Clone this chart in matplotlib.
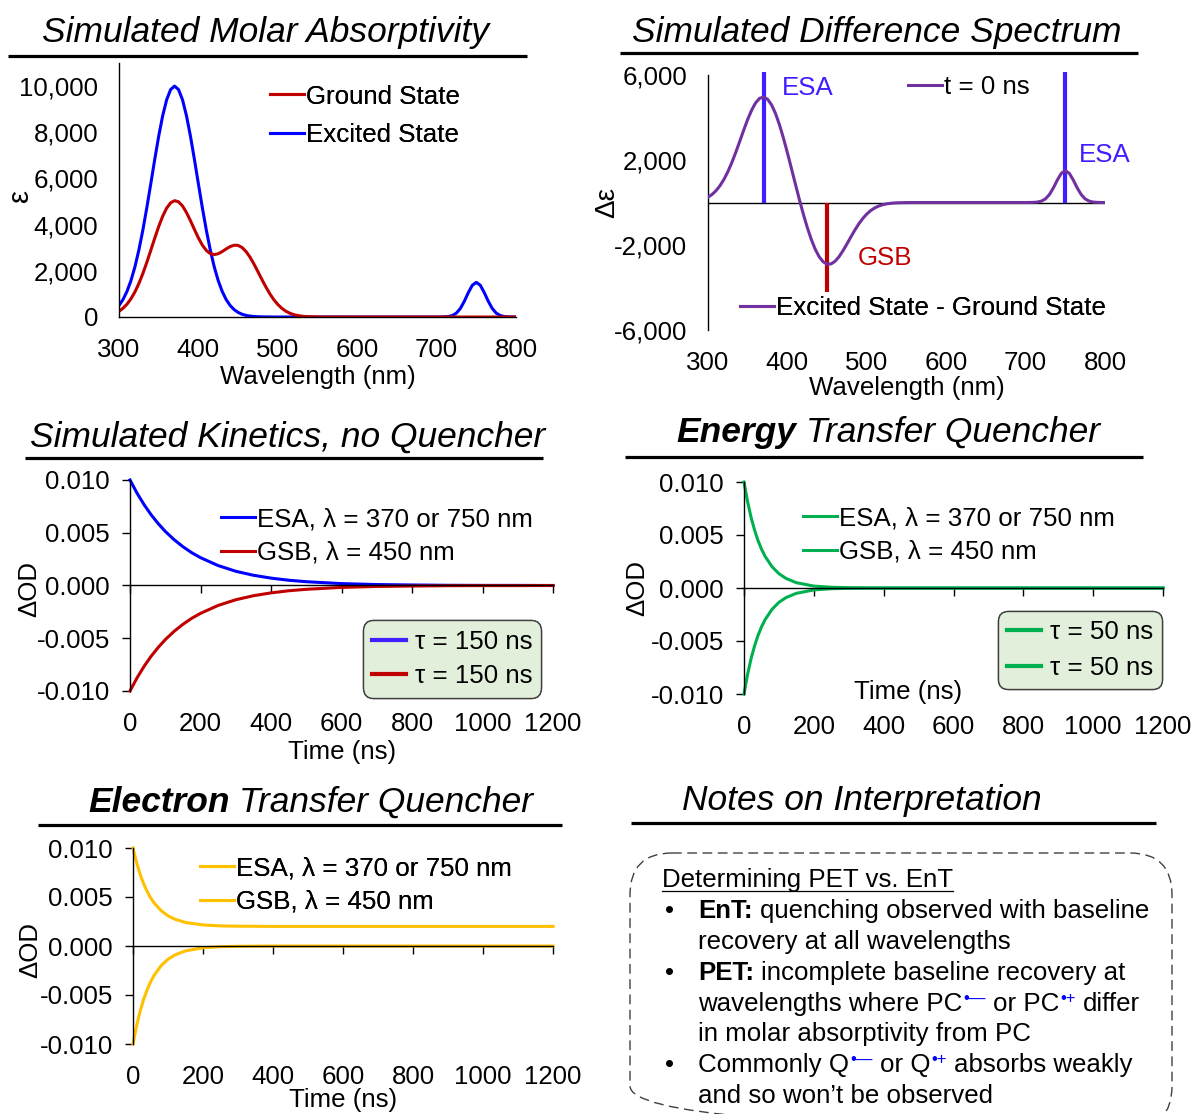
import matplotlib
matplotlib.use('Agg')
import matplotlib.pyplot as plt
import numpy as np
from matplotlib.lines import Line2D
from matplotlib.patches import FancyBboxPatch
from matplotlib.ticker import FuncFormatter

plt.rcParams['font.family'] = ['Liberation Sans', 'DejaVu Sans']
plt.rcParams['axes.linewidth'] = 1.0

W, H = 1196, 1114
FS = 18.6     # ticks, legends, notes
TFS = 25.5    # panel titles
SP = 0.278 * FS * 100 / 72   # width of a space in px

RED = '#C00000'
BLUE = '#0000FF'
MARK_BLUE = '#3F1FFF'
PURPLE = '#7030A0'
GREEN = '#00B050'
GOLD = '#FFC000'

# ---- simulated spectra (nm, M^-1 cm^-1) ----
wl = list(range(300, 545, 5)) + [550, 560, 600, 650] + list(range(700, 805, 5))

eps_ground = [249, 377, 552, 786, 1083, 1448, 1878, 2363, 2884, 3412,
              3918, 4363, 4715, 4945, 5038, 4988, 4808, 4523, 4170, 3789,
              3425, 3112, 2881, 2744, 2703, 2741, 2833, 2949, 3050, 3109,
              3100, 3009, 2836, 2592, 2292, 1961, 1623, 1298, 1003, 749,
              542, 378, 255, 166, 105, 64, 38, 21, 12,
              3, 1, 0, 0,
              0, 0, 0, 0, 0, 0, 0, 0, 0, 0, 0, 0, 0, 0, 0, 0, 0, 0, 0, 0, 0]

eps_excited = [498, 753, 1104, 1571, 2165, 2896, 3756, 4726, 5765, 6821,
               7829, 8714, 9406, 9848, 10000, 9848, 9406, 8714, 7829, 6821,
               5765, 4726, 3756, 2896, 2165, 1571, 1104, 753, 498, 320,
               199, 120, 70, 40, 22, 12, 6, 3, 1, 0,
               0, 0, 0, 0, 0, 0, 0, 0, 0,
               0, 0, 0, 0,
               0, 1, 6, 21, 66, 171, 374, 687, 1060, 1375, 1500,
               1375, 1060, 687, 374, 171, 66, 21, 6, 1, 0]

# band markers on the difference spectrum
band_wl = [370, 450, 750]
band_len = [6150, -4200, 6150]
band_col = [MARK_BLUE, RED, MARK_BLUE]

# ---- simulated kinetics (ns, dOD) ----
t_slow = [0, 20, 40, 60, 80, 100, 125, 150, 175, 200, 250, 300, 350, 400,
          450, 500, 600, 700, 800, 900, 1000, 1100, 1200]
esa_slow = [0.0100, 0.00875, 0.00766, 0.00670, 0.00587, 0.00513, 0.00435,
            0.00368, 0.00311, 0.00264, 0.00189, 0.00135, 0.00097, 0.00070,
            0.00050, 0.00036, 0.00018, 0.00009, 0.00005, 0.00002, 0.00001,
            0.00001, 0.0]
gsb_slow = [-0.0100, -0.00875, -0.00766, -0.00670, -0.00587, -0.00513, -0.00435,
            -0.00368, -0.00311, -0.00264, -0.00189, -0.00135, -0.00097, -0.00070,
            -0.00050, -0.00036, -0.00018, -0.00009, -0.00005, -0.00002, -0.00001,
            -0.00001, 0.0]

t_fast = [0, 10, 20, 30, 40, 50, 60, 80, 100, 120, 150, 200, 250, 300,
          400, 600, 800, 1000, 1200]
esa_ent = [0.0100, 0.00819, 0.00670, 0.00549, 0.00449, 0.00368, 0.00301,
           0.00202, 0.00135, 0.00091, 0.00050, 0.00018, 0.00007, 0.00003,
           0.0, 0.0, 0.0, 0.0, 0.0]
gsb_ent = [-0.0100, -0.00819, -0.00670, -0.00549, -0.00449, -0.00368, -0.00301,
           -0.00202, -0.00135, -0.00091, -0.00050, -0.00018, -0.00007, -0.00003,
           0.0, 0.0, 0.0, 0.0, 0.0]
esa_pet = [0.0100, 0.00855, 0.00736, 0.00639, 0.00559, 0.00494, 0.00441,
           0.00362, 0.00308, 0.00273, 0.00240, 0.00215, 0.00205, 0.00202,
           0.00200, 0.00200, 0.00200, 0.00200, 0.00200]
gsb_pet = [-0.0100, -0.00819, -0.00670, -0.00549, -0.00449, -0.00368, -0.00301,
           -0.00202, -0.00135, -0.00091, -0.00050, -0.00018, -0.00007, -0.00003,
           0.0, 0.0, 0.0, 0.0, 0.0]

fig = plt.figure(figsize=(W / 100, H / 100), dpi=100)

# full-figure layer in pixel units for titles, labels and the notes box
overlay = fig.add_axes([0, 0, 1, 1])
overlay.set_xlim(0, W)
overlay.set_ylim(H, 0)
overlay.axis('off')
renderer = fig.canvas.get_renderer()


def runs(x, y, parts):
    # write consecutive text pieces on one baseline
    for p in parts:
        x += p.get('gap', 0)
        kw = dict(fontsize=FS)
        kw.update(p.get('kw', {}))
        t = overlay.text(x, y - p.get('rise', 0), p['s'], ha='left', va='baseline', **kw)
        x += t.get_window_extent(renderer).width
    return x


def heading(y, x1, x2, yline, text=None, cx=None, parts=None, x0=None):
    if text is not None:
        overlay.text(cx, y, text, fontsize=TFS, style='italic', ha='center', va='baseline')
    else:
        runs(x0, y, parts)
    overlay.plot([x1, x2], [yline, yline], color='black', lw=2.3, solid_capstyle='butt')


def label(x, y, s, rot=0, size=FS):
    overlay.text(x, y, s, fontsize=size, ha='center', va='center', rotation=rot)


def panel(l, t, r, b):
    ax = fig.add_axes([l / W, 1 - b / H, (r - l) / W, (b - t) / H])
    ax.set_facecolor('none')
    for s in ('top', 'right'):
        ax.spines[s].set_visible(False)
    return ax


def legend(ax, handles, labels, x, y, loc='center left', box=False, spacing=0.42):
    kw = dict(frameon=False, borderpad=0)
    if box:
        kw = dict(frameon=True, fancybox=True, facecolor='#E2EFDA', edgecolor='#404040',
                  framealpha=1, borderpad=0.36)
    leg = ax.legend(handles, labels, loc=loc, bbox_to_anchor=(x / W, 1 - y / H),
                    bbox_transform=fig.transFigure, borderaxespad=0, fontsize=FS,
                    handlelength=1.3, handletextpad=0.35 if box else 0.1,
                    labelspacing=spacing, **kw)
    if box:
        fr = leg.get_frame()
        fr.set_linewidth(1.0)
        fr.set_boxstyle('round', pad=0, rounding_size=0.4)
    ax.add_artist(leg)
    return leg


comma = FuncFormatter(lambda v, p: f'{v:,.0f}')
odfmt = FuncFormatter(lambda v, p: '0.000' if abs(v) < 1e-9 else f'{v:.3f}')

# ---- molar absorptivity ----
heading(42, 8, 527, 56, text='Simulated Molar Absorptivity', cx=266)
ax1 = panel(119, 63, 516, 317)
ax1.plot(wl, eps_excited, color=BLUE, lw=2.2, label='Excited State')
ax1.plot(wl, eps_ground, color=RED, lw=2.2, label='Ground State')
ax1.set_xlim(300, 800)
ax1.set_ylim(0, 11000)
ax1.set_xticks(range(300, 801, 100))
ax1.set_yticks(range(0, 10001, 2000))
ax1.yaxis.set_major_formatter(comma)
ax1.tick_params(length=0, labelsize=FS, pad=15)
h1 = ax1.get_lines()
legend(ax1, [h1[1], h1[0]], ['Ground State', 'Excited State'], 270, 116, spacing=0.58)
label(318, 377, 'Wavelength (nm)')
label(20, 195, 'ε', rot=90, size=21)

# ---- difference spectrum ----
heading(42, 620, 1138, 53, text='Simulated Difference Spectrum', cx=877)
ax2 = panel(708, 75, 1105, 330)
diff = np.array(eps_excited) - np.array(eps_ground)
ax2.axhline(0, color='black', lw=1.0, zorder=1)
ax2.vlines(band_wl, 0, band_len, colors=band_col, lw=3, clip_on=False, zorder=2)
dline, = ax2.plot(wl, diff, color=PURPLE, lw=2.2, zorder=3)
ax2.set_xlim(300, 800)
ax2.set_ylim(-6000, 6000)
ax2.spines['bottom'].set_visible(False)
ax2.set_xticks(range(300, 801, 100))
ax2.set_yticks([-6000, -2000, 2000, 6000])
ax2.yaxis.set_major_formatter(comma)
ax2.tick_params(length=0, labelsize=FS, pad=15)
legend(ax2, [dline], ['t = 0 ns'], 908, 87)
legend(ax2, [dline], ['Excited State - Ground State'], 740, 308)
overlay.text(782, 88, 'ESA', fontsize=FS, color=MARK_BLUE, ha='left', va='center')
overlay.text(1079, 155, 'ESA', fontsize=FS, color=MARK_BLUE, ha='left', va='center')
overlay.text(858, 258, 'GSB', fontsize=FS, color=RED, ha='left', va='center')
label(907, 388, 'Wavelength (nm)')
label(607, 203, 'Δε', rot=90, size=20)


def kinetics(box, t, esa, gsb, c_esa, c_gsb):
    ax = panel(*box)
    l1, = ax.plot(t, esa, color=c_esa, lw=2.2, clip_on=False)
    l2, = ax.plot(t, gsb, color=c_gsb, lw=2.2, clip_on=False)
    ax.set_xlim(0, 1200)
    ax.set_ylim(-0.01, 0.01)
    ax.spines['bottom'].set_position(('data', 0))
    ax.set_xticks(range(0, 1201, 200))
    ax.set_yticks([-0.01, -0.005, 0, 0.005, 0.01])
    ax.yaxis.set_major_formatter(odfmt)
    ax.tick_params(axis='x', labelbottom=False, direction='out', length=5.5, width=1)
    ax.tick_params(axis='y', direction='out', length=5.5, width=1, labelsize=FS, pad=9)
    sec = ax.secondary_xaxis('bottom')
    sec.set_xticks(range(0, 1201, 200))
    sec.spines['bottom'].set_visible(False)
    sec.tick_params(length=0, pad=15, labelsize=FS)
    return ax, l1, l2


# ---- kinetics without quencher ----
heading(447, 25, 543, 458, text='Simulated Kinetics, no Quencher', cx=288)
ax3, a, b = kinetics((130, 480, 553, 691), t_slow, esa_slow, gsb_slow, BLUE, RED)
legend(ax3, [a, b], ['ESA, λ = 370 or 750 nm', 'GSB, λ = 450 nm'], 221, 536, spacing=0.38)
legend(ax3, [Line2D([], [], color=MARK_BLUE, lw=3), Line2D([], [], color=RED, lw=3)],
       ['τ = 150 ns', 'τ = 150 ns'], 452, 659, loc='center', box=True, spacing=0.42)
label(342, 752, 'Time (ns)')
label(29, 589, 'ΔOD', rot=90)

# ---- energy transfer quencher ----
heading(442, 625, 1143, 457, x0=676, parts=[
    {'s': 'Energy', 'kw': {'fontsize': TFS, 'style': 'italic', 'weight': 'bold'}},
    {'s': 'Transfer Quencher', 'gap': 0.278 * TFS * 100 / 72,
     'kw': {'fontsize': TFS, 'style': 'italic'}}])
ax4, a, b = kinetics((744, 482, 1163, 694), t_fast, esa_ent, gsb_ent, GREEN, GREEN)
legend(ax4, [a, b], ['ESA, λ = 370 or 750 nm', 'GSB, λ = 450 nm'], 803, 535, spacing=0.38)
legend(ax4, [Line2D([], [], color=GREEN, lw=3), Line2D([], [], color=GREEN, lw=3)],
       ['τ = 50 ns', 'τ = 50 ns'], 1080, 650, loc='center', box=True, spacing=0.46)
label(908, 692, 'Time (ns)')
label(637, 588, 'ΔOD', rot=90)

# ---- electron transfer quencher ----
heading(812, 38, 562, 825, x0=88, parts=[
    {'s': 'Electron', 'kw': {'fontsize': TFS, 'style': 'italic', 'weight': 'bold'}},
    {'s': 'Transfer Quencher', 'gap': 0.278 * TFS * 100 / 72,
     'kw': {'fontsize': TFS, 'style': 'italic'}}])
ax5, a, b = kinetics((133, 848, 553, 1044), t_fast, esa_pet, gsb_pet, GOLD, GOLD)
legend(ax5, [a, b], ['ESA, λ = 370 or 750 nm', 'GSB, λ = 450 nm'], 200, 885, spacing=0.38)
label(343, 1100, 'Time (ns)')
label(30, 950, 'ΔOD', rot=90)

# ---- notes ----
heading(810, 631, 1156, 823, text='Notes on Interpretation', cx=862)
overlay.add_patch(FancyBboxPatch((630, 853), 542, 275, boxstyle='round,pad=0,rounding_size=42',
                                 fc='none', ec='#404040', lw=1.0, ls=(0, (7, 4)),
                                 clip_on=True))
x_end = runs(662, 887, [{'s': 'Determining PET vs. EnT'}])
overlay.plot([662, x_end], [890.5, 890.5], color='black', lw=0.9)

bold = {'weight': 'bold'}
sup = {'fontsize': 12, 'color': BLUE}
base = [887 + 30.9 * i for i in range(8)]
for i in (1, 3, 6):
    overlay.text(665, base[i], '•', fontsize=FS, ha='left', va='baseline')
runs(698, base[1], [{'s': 'EnT:', 'kw': bold},
                    {'s': 'quenching observed with baseline', 'gap': SP}])
runs(698, base[2], [{'s': 'recovery at all wavelengths'}])
runs(698, base[3], [{'s': 'PET:', 'kw': bold},
                    {'s': 'incomplete baseline recovery at', 'gap': SP}])
runs(698, base[4], [{'s': 'wavelengths where PC'},
                    {'s': '•—', 'kw': sup, 'rise': 8, 'gap': 1},
                    {'s': 'or PC', 'gap': SP},
                    {'s': '•+', 'kw': sup, 'rise': 8, 'gap': 1},
                    {'s': 'differ', 'gap': SP}])
runs(698, base[5], [{'s': 'in molar absorptivity from PC'}])
runs(698, base[6], [{'s': 'Commonly Q'},
                    {'s': '•—', 'kw': sup, 'rise': 8, 'gap': 1},
                    {'s': 'or Q', 'gap': SP},
                    {'s': '•+', 'kw': sup, 'rise': 8, 'gap': 1},
                    {'s': 'absorbs weakly', 'gap': SP}])
runs(698, base[7], [{'s': 'and so won’t be observed'}])

fig.savefig('out.png', dpi=100)
